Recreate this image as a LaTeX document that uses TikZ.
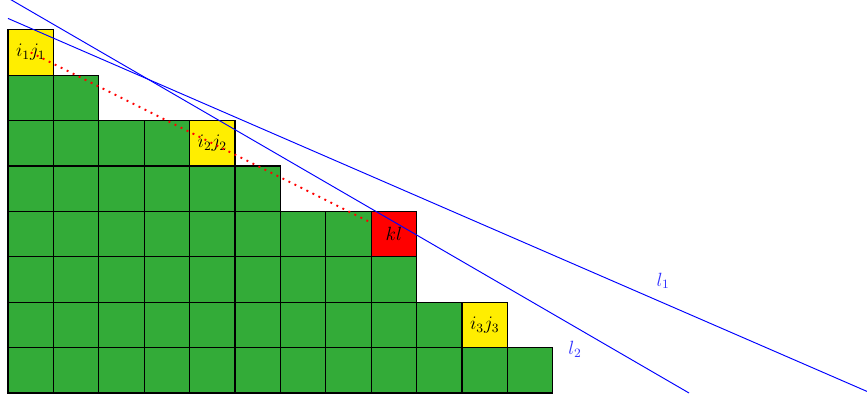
\documentclass[tikz,border=0pt]{standalone}
\begin{document}
\begin{tikzpicture}[x=1cm,y=1cm,
  cell/.style={draw=black, line width=0.8pt, minimum size=1cm, inner sep=0pt, outer sep=0pt, anchor=south west, font=\large},
  gcell/.style={cell, fill=gfill},
  ycell/.style={cell, fill=yfill},
  rcell/.style={cell, fill=red},
  bline/.style={blue, line width=0.6pt},
  blabel/.style={blue!80, font=\large}]
\definecolor{gfill}{RGB}{51,171,56}
\definecolor{yfill}{RGB}{255,238,0}
\useasboundingbox (-0.176,-0.154) rectangle (18.92,8.656);
% green cells: row index / number of cells
\foreach \r/\n in {0/12,1/10,2/9,3/8,4/6,5/4,6/2} {
  \foreach \c in {1,...,\n} {
    \pgfmathtruncatemacro{\cc}{\c-1}
    \node[gcell] (g\r-\cc) at (\cc,\r) {};
  }
}
\node[ycell] (i1j1) at (0,7) {$i_1j_1$};
\node[ycell] (i2j2) at (4,5) {$i_2j_2$};
\node[ycell] (i3j3) at (10,1) {$i_3j_3$};
\node[rcell] (kl) at (8,3) {$kl$};
\draw[red, line width=1.2pt, dash pattern=on 1.2pt off 3pt] (i1j1.center) -- (kl);
\coordinate (l1a) at (0,8.25);
\coordinate (l1b) at (19,0);
\coordinate (l2a) at (0,8.7);
\coordinate (l2b) at (15,0);
\draw[bline] (l1a) -- (l1b);
\draw[bline] (l2a) -- (l2b);
\node[blabel] (l1) at (14.43,2.47) {$l_1$};
\node[blabel] (l2) at (12.49,0.97) {$l_2$};
\end{tikzpicture}
\end{document}
